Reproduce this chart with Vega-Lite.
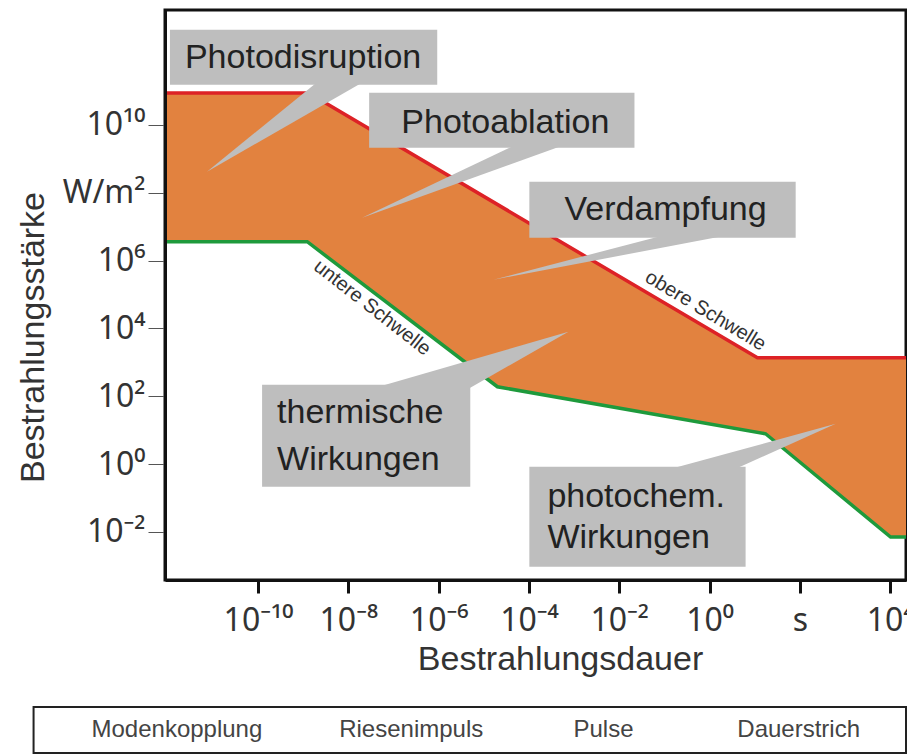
{
  "$schema": "https://vega.github.io/schema/vega-lite/v6.json",
  "width": 741,
  "height": 570,
  "autosize": {"type": "none"},
  "padding": {"left": 165, "top": 10, "right": 1, "bottom": 175},
  "background": "white",
  "config": {
    "font": "Liberation Sans",
    "view": {"stroke": "#111", "strokeWidth": 3}
  },
  "datasets": {
    "area": [
      {"t": 8.71e-13, "v": 8.7e10, "v2": 3.6e6},
      {"t": 1.3e-9, "v": 8.7e10, "v2": 3.6e6},
      {"t": 2e-5, "v": 4.5e7, "v2": 190},
      {"t": 11.5, "v": 1350, "v2": 8.5},
      {"t": 17.4, "v": 1350, "v2": 7.8},
      {"t": 10200, "v": 1350, "v2": 0.007},
      {"t": 22390, "v": 1350, "v2": 0.007}
    ],
    "lines": [
      {"s": "obere", "t": 8.71e-13, "v": 8.7e10},
      {"s": "obere", "t": 1.32e-9, "v": 8.7e10},
      {"s": "obere", "t": 11.5, "v": 1350},
      {"s": "obere", "t": 22390, "v": 1350},
      {"s": "untere", "t": 8.71e-13, "v": 3.6e6},
      {"s": "untere", "t": 1.23e-9, "v": 3.6e6},
      {"s": "untere", "t": 2e-5, "v": 190},
      {"s": "untere", "t": 17.4, "v": 7.8},
      {"s": "untere", "t": 10200, "v": 0.007},
      {"s": "untere", "t": 22390, "v": 0.007}
    ],
    "wedges": [
      {"id": "w1", "t": 2.37e-9, "v": 2.16e11},
      {"id": "w1", "t": 2.61e-8, "v": 2.16e11},
      {"id": "w1", "t": 7.4e-12, "v": 4.17e8},
      {"id": "w2", "t": 6.44e-5, "v": 2.99e9},
      {"id": "w2", "t": 8.28e-4, "v": 2.99e9},
      {"id": "w2", "t": 2.02e-8, "v": 1.83e7},
      {"id": "w3", "t": 0.159, "v": 6.61e6},
      {"id": "w3", "t": 4.86, "v": 6.61e6},
      {"id": "w3", "t": 1.63e-5, "v": 2.72e5},
      {"id": "w4", "t": 3.93e-8, "v": 177},
      {"id": "w4", "t": 5.02e-6, "v": 177},
      {"id": "w4", "t": 7.48e-4, "v": 7940},
      {"id": "w5", "t": 0.117, "v": 0.675},
      {"id": "w5", "t": 3.4, "v": 0.675},
      {"id": "w5", "t": 622, "v": 15.3}
    ],
    "boxes": [
      {"t": 1.12e-12, "t2": 9.31e-7, "v": 6.43e12, "v2": 1.53e11},
      {"t": 2.89e-8, "t2": 0.0217, "v": 8.91e10, "v2": 2.13e9},
      {"t": 1.02e-4, "t2": 80.7, "v": 2.11e8, "v2": 4.71e6},
      {"t": 1.23e-10, "t2": 5.02e-6, "v": 217, "v2": 0.212},
      {"t": 1.02e-4, "t2": 6.28, "v": 0.826, "v2": 9.29e-4}
    ],
    "labelsC": [
      {"t": 9.95e-10, "v": 9.6e11, "text": "Photodisruption"},
      {"t": 3.0e-5, "v": 1.16e10, "text": "Photoablation"},
      {"t": 0.106, "v": 3.15e7, "text": "Verdampfung"}
    ],
    "labelsL": [
      {"t": 2.64e-10, "v": 32.4, "text": "thermische"},
      {"t": 2.64e-10, "v": 1.33, "text": "Wirkungen"},
      {"t": 2.56e-4, "v": 0.108, "text": "photochem."},
      {"t": 2.56e-4, "v": 0.00665, "text": "Wirkungen"}
    ],
    "untere": [{"t": 3.37e-8, "v": 40600, "text": "untere Schwelle"}],
    "obere": [{"t": 0.815, "v": 33000, "text": "obere Schwelle"}],
    "strip": [{"t": 1.07e-15, "t2": 22390, "v": 6.89e-8, "v2": 3.03e-9}],
    "stripLabels": [
      {"t": 1.6e-12, "v": 1.44e-8, "text": "Modenkopplung"},
      {"t": 2.47e-7, "v": 1.44e-8, "text": "Riesenimpuls"},
      {"t": 0.00447, "v": 1.44e-8, "text": "Pulse"},
      {"t": 94, "v": 1.44e-8, "text": "Dauerstrich"}
    ]
  },
  "encoding": {
    "x": {
      "field": "t",
      "type": "quantitative",
      "scale": {"type": "log", "domain": [8.71e-13, 22390], "nice": false},
      "axis": {
        "values": [1e-10, 1e-8, 1e-6, 1e-4, 1e-2, 1, 100, 10000],
        "labelExpr": "datum.value < 1e-9 ? '10⁻¹⁰' : datum.value < 1e-7 ? '10⁻⁸' : datum.value < 1e-5 ? '10⁻⁶' : datum.value < 1e-3 ? '10⁻⁴' : datum.value < 0.1 ? '10⁻²' : datum.value < 10 ? '10⁰' : datum.value < 1000 ? 's' : '10⁴'",
        "grid": false,
        "zindex": 1,
        "domainColor": "#111",
        "domainWidth": 3,
        "tickColor": "#111",
        "tickWidth": 3,
        "tickSize": 13,
        "labelFont": "Noto Sans",
        "labelFontSize": 32,
        "labelColor": "#333",
        "labelPadding": 12,
        "labelOverlap": false,
        "labelFlush": false,
        "title": "Bestrahlungsdauer",
        "titleFontSize": 34,
        "titleFontWeight": "normal",
        "titleColor": "#333",
        "titlePadding": 6,
        "titleX": 395
      }
    },
    "y": {
      "field": "v",
      "type": "quantitative",
      "scale": {"type": "log", "domain": [3.8e-4, 2.45e13], "nice": false},
      "axis": {
        "values": [0.01, 1, 100, 10000, 1000000, 100000000, 10000000000],
        "labelExpr": "datum.value < 0.1 ? '10⁻²' : datum.value < 10 ? '10⁰' : datum.value < 1000 ? '10²' : datum.value < 1e5 ? '10⁴' : datum.value < 1e7 ? '10⁶' : datum.value < 1e9 ? 'W/m²' : '10¹⁰'",
        "grid": false,
        "zindex": 1,
        "domainColor": "#111",
        "domainWidth": 3,
        "tickColor": "#555",
        "tickWidth": 1,
        "tickSize": 17,
        "labelFont": "Noto Sans",
        "labelFontSize": 32,
        "labelColor": "#333",
        "labelPadding": 3,
        "labelBaseline": "middle",
        "labelOverlap": false,
        "labelFlush": false,
        "title": "Bestrahlungsstärke",
        "titleFontSize": 34,
        "titleFontWeight": "normal",
        "titleColor": "#333",
        "titlePadding": 12,
        "titleY": 327
      }
    }
  },
  "layer": [
    {
      "data": {"name": "area"},
      "mark": {"type": "area", "color": "#E2823F"},
      "encoding": {"y2": {"field": "v2"}}
    },
    {
      "data": {"name": "lines"},
      "mark": {"type": "line", "strokeWidth": 3.5},
      "encoding": {
        "color": {
          "field": "s",
          "type": "nominal",
          "scale": {"domain": ["obere", "untere"], "range": ["#DD2226", "#1E9A3C"]},
          "legend": null
        }
      }
    },
    {
      "data": {"name": "wedges"},
      "mark": {"type": "line", "interpolate": "linear-closed", "filled": true, "color": "#BEBEBE"},
      "encoding": {"detail": {"field": "id"}}
    },
    {
      "data": {"name": "boxes"},
      "mark": {"type": "rect", "color": "#BEBEBE"},
      "encoding": {"x2": {"field": "t2"}, "y2": {"field": "v2"}}
    },
    {
      "data": {"name": "labelsC"},
      "mark": {"type": "text", "fontSize": 34, "color": "#222", "align": "center", "baseline": "middle"},
      "encoding": {"text": {"field": "text"}}
    },
    {
      "data": {"name": "labelsL"},
      "mark": {"type": "text", "fontSize": 34, "color": "#222", "align": "left", "baseline": "middle"},
      "encoding": {"text": {"field": "text"}}
    },
    {
      "data": {"name": "untere"},
      "mark": {"type": "text", "fontSize": 20, "color": "#333", "align": "center", "baseline": "middle", "angle": 38},
      "encoding": {"text": {"field": "text"}}
    },
    {
      "data": {"name": "obere"},
      "mark": {"type": "text", "fontSize": 20, "color": "#333", "align": "center", "baseline": "middle", "angle": 31},
      "encoding": {"text": {"field": "text"}}
    },
    {
      "data": {"name": "strip"},
      "mark": {"type": "rect", "fill": "white", "stroke": "#222", "strokeWidth": 2},
      "encoding": {"x2": {"field": "t2"}, "y2": {"field": "v2"}}
    },
    {
      "data": {"name": "stripLabels"},
      "mark": {"type": "text", "fontSize": 24, "color": "#444", "align": "center", "baseline": "middle"},
      "encoding": {"text": {"field": "text"}}
    }
  ]
}
